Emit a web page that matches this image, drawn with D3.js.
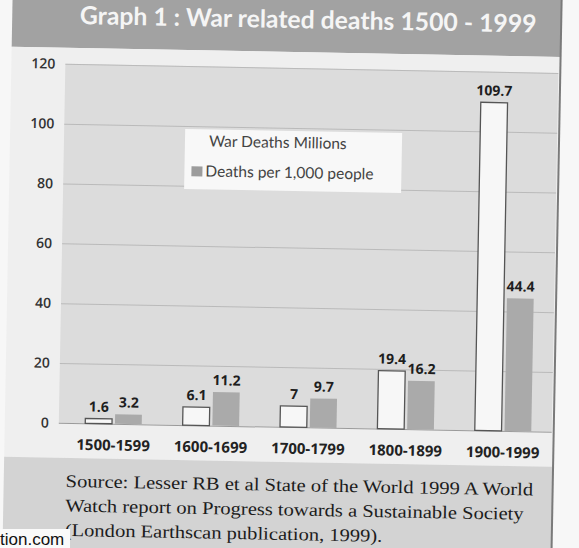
<!DOCTYPE html>
<html>
<head>
<meta charset="utf-8">
<script src="https://cdn.jsdelivr.net/npm/d3@7"></script>
<style>
  body { margin: 0; background: #f7f7f7; }
  svg { display: block; }
</style>
</head>
<body>
<svg id="chart"></svg>
<script>
// chart values
const categories = ['1500-1599', '1600-1699', '1700-1799', '1800-1899', '1900-1999'];
const warDeathsMillions = [1.6, 6.1, 7, 19.4, 109.7];
const deathsPer1000 = [3.2, 11.2, 9.7, 16.2, 44.4];
const seriesNames = ['War Deaths Millions', 'Deaths per 1,000 people'];
const yTicks = [0, 20, 40, 60, 80, 100, 120];
const titleText = 'Graph  1 : War related deaths 1500 - 1999';
const sourceLines = [
  'Source: Lesser RB et al State of the World 1999 A World',
  'Watch report on Progress towards a Sustainable Society',
  '(London Earthscan publication, 1999).'
];

const W = 579, H = 548;
const plot = { left: 62, right: 555, top: 68, bottom: 427 };

const svg = d3.select('#chart')
    .attr('width', W)
    .attr('height', H);

// the photo is tilted a little, so the page is drawn in a rotated group
const page = svg.append('g')
    .attr('transform', 'rotate(1.05, 290, 250)');

// page areas
page.append('rect').attr('x', 8).attr('y', -10).attr('width', 549).attr('height', 62).attr('fill', '#a2a2a2');
page.append('rect').attr('x', 8).attr('y', 52).attr('width', 549).attr('height', 410).attr('fill', '#efefef');
page.append('rect').attr('x', 8).attr('y', 462).attr('width', 549).attr('height', 100).attr('fill', '#d3d3d3');
page.append('line')
    .attr('x1', 557).attr('x2', 557).attr('y1', -10).attr('y2', 560)
    .attr('stroke', '#7a7a7a').attr('stroke-width', 2);
page.append('rect')
    .attr('x', plot.left).attr('y', plot.top)
    .attr('width', plot.right - plot.left).attr('height', plot.bottom - plot.top)
    .attr('fill', '#dcdcdc');

// fit a text element to a given width by changing its font size
function fitText(sel, width) {
  const size = parseFloat(sel.style('font-size'));
  const len = sel.node().getComputedTextLength();
  sel.style('font-size', (size * width / len) + 'px');
}

const title = page.append('text')
    .attr('x', 304)
    .attr('y', 28)
    .attr('text-anchor', 'middle')
    .attr('fill', '#f5f5f5')
    .style('font-family', 'Lato, "Open Sans", sans-serif')
    .style('font-weight', 'bold')
    .style('font-size', '24px')
    .text(titleText);
fitText(title, 457);

// scales
const x0 = d3.scaleBand()
    .domain(categories)
    .range([68, plot.right])
    .paddingInner(0.42)
    .paddingOuter(0.21);

const x1 = d3.scaleBand()
    .domain(['war', 'rate'])
    .range([0, x0.bandwidth()])
    .paddingInner(0.1);

const yScale = d3.scaleLinear()
    .domain([0, 120])
    .range([plot.bottom, plot.top]);

// gridlines and y labels
const yAxis = d3.axisLeft(yScale)
    .tickValues(yTicks)
    .tickSize(-(plot.right - plot.left))
    .tickPadding(10)
    .tickFormat(d3.format('d'));

const yAxisG = page.append('g')
    .attr('transform', `translate(${plot.left},0)`)
    .call(yAxis);
yAxisG.select('.domain').remove();
yAxisG.selectAll('.tick line')
    .attr('stroke', d => d === 0 ? '#9a9a9a' : '#bababa')
    .attr('stroke-width', 1);
yAxisG.selectAll('.tick text')
    .attr('fill', '#333')
    .style('font-family', '"Open Sans", sans-serif')
    .style('font-weight', 600)
    .style('font-size', '14px');

// x labels
const xAxisG = page.append('g')
    .attr('transform', `translate(0,${plot.bottom})`)
    .call(d3.axisBottom(x0).tickSize(0).tickPadding(16));
xAxisG.select('.domain').remove();
xAxisG.selectAll('.tick text')
    .attr('fill', '#222')
    .style('font-family', '"Open Sans", sans-serif')
    .style('font-weight', 'bold')
    .style('font-size', '15px');

// bars
const rows = categories.map((c, i) => ({
  cat: c,
  values: [
    { key: 'war', value: warDeathsMillions[i] },
    { key: 'rate', value: deathsPer1000[i] }
  ]
}));

const groups = page.append('g').selectAll('g')
    .data(rows)
    .join('g')
    .attr('transform', d => `translate(${x0(d.cat)},0)`);

groups.selectAll('rect')
    .data(d => d.values)
    .join('rect')
    .attr('x', d => x1(d.key))
    .attr('y', d => yScale(d.value))
    .attr('width', x1.bandwidth())
    .attr('height', d => yScale(0) - yScale(d.value))
    .attr('fill', d => d.key === 'war' ? '#f7f7f7' : '#aaaaaa')
    .attr('stroke', d => d.key === 'war' ? '#555' : 'none')
    .attr('stroke-width', 1.3);

groups.selectAll('text')
    .data(d => d.values)
    .join('text')
    .attr('x', d => x1(d.key) + x1.bandwidth() / 2)
    .attr('y', d => yScale(d.value) - 7)
    .attr('text-anchor', 'middle')
    .attr('fill', '#1e1e1e')
    .style('font-family', '"Open Sans", sans-serif')
    .style('font-weight', 'bold')
    .style('font-size', '14px')
    .text(d => d.value);

// legend
const legend = page.append('g');
legend.append('rect')
    .attr('x', 183).attr('y', 131)
    .attr('width', 217).attr('height', 60)
    .attr('fill', '#f8f8f8');

const legendItems = legend.selectAll('g')
    .data(seriesNames)
    .join('g')
    .attr('transform', (d, i) => `translate(190,${148 + i * 30})`);

legendItems.append('rect')
    .attr('x', 0).attr('y', -10)
    .attr('width', 11).attr('height', 10)
    .attr('fill', (d, i) => i === 0 ? '#f8f8f8' : '#9c9c9c');

legendItems.append('text')
    .attr('x', (d, i) => i === 0 ? 17 : 14)
    .attr('y', 0)
    .attr('fill', '#444')
    .style('font-family', 'Lato, sans-serif')
    .style('font-size', '15.5px')
    .text(d => d);

// source note: 18px type, squeezed sideways to the printed line width
const sourceG = page.append('g');
const source = sourceG.selectAll('text')
    .data(sourceLines)
    .join('text')
    .attr('x', 0)
    .attr('y', (d, i) => 491 + i * 24.5)
    .attr('fill', '#1c1c1c')
    .style('font-family', '"Liberation Serif", "Times New Roman", serif')
    .style('font-size', '18px')
    .text(d => d);
const kx = 468 / source.nodes()[0].getComputedTextLength();
sourceG.attr('transform', `translate(70,0) scale(${kx},1)`);

// site watermark, not tilted
svg.append('rect')
    .attr('x', 0).attr('y', 529)
    .attr('width', 70).attr('height', 19)
    .attr('fill', '#fafafa');
svg.append('text')
    .attr('x', 0)
    .attr('y', 545)
    .attr('fill', '#111')
    .style('font-family', '"Liberation Sans", Arial, sans-serif')
    .style('font-size', '17px')
    .text('tion.com');
</script>
</body>
</html>
